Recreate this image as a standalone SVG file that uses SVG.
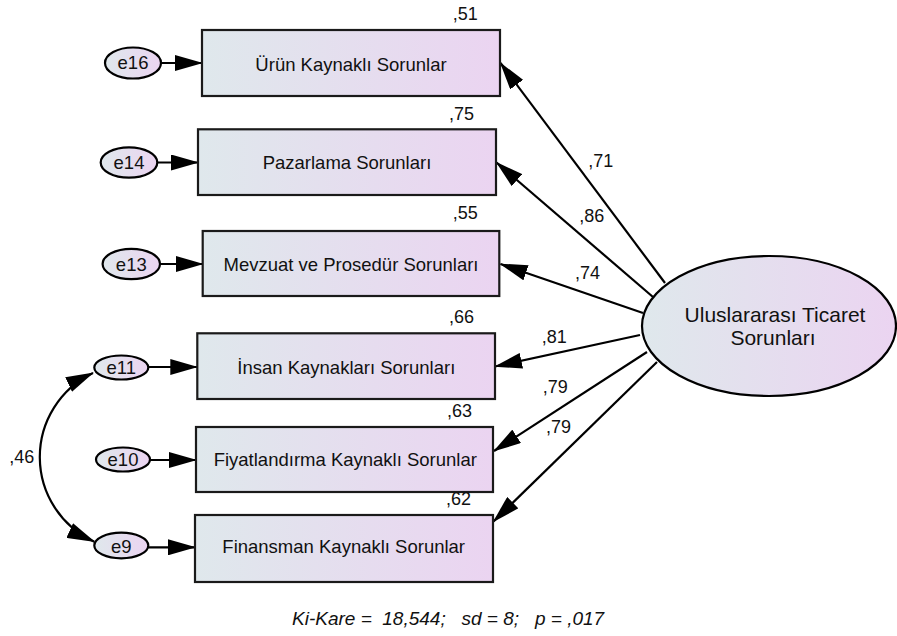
<svg xmlns="http://www.w3.org/2000/svg" width="897" height="636" viewBox="0 0 897 636">
<defs>
<linearGradient id="g" x1="0" y1="0" x2="1" y2="0">
<stop offset="0" stop-color="#dfe8ec"/>
<stop offset="1" stop-color="#ebd4f1"/>
</linearGradient>
<marker id="ah" viewBox="0 0 28 16" markerWidth="28" markerHeight="16" refX="27" refY="8" orient="auto-start-reverse" markerUnits="userSpaceOnUse">
<path d="M0,0 L28,8 L0,16 z" fill="#000"/>
</marker>
<style>
.box{fill:url(#g);stroke:#1a1a1a;stroke-width:2.2}
.el{fill:url(#g);stroke:#000;stroke-width:2.2}
.lbl{font-family:"Liberation Sans",Arial,sans-serif;font-size:18.5px;fill:#111;text-anchor:middle}
.num{font-family:"Liberation Sans",Arial,sans-serif;font-size:18px;fill:#111}
.con{fill:none;stroke:#000;stroke-width:2.2;marker-end:url(#ah)}
</style>
</defs>
<rect width="897" height="636" fill="#fff"/>

<g id="connectors">
<line class="con" x1="161" y1="63" x2="202" y2="63"/>
<line class="con" x1="157.3" y1="162.5" x2="198" y2="162.5"/>
<line class="con" x1="160" y1="264" x2="202.7" y2="264"/>
<line class="con" x1="148.3" y1="367" x2="197.3" y2="367"/>
<line class="con" x1="150" y1="460" x2="196" y2="460"/>
<line class="con" x1="148.3" y1="547.3" x2="195" y2="547.3"/>
<line class="con" x1="665" y1="283" x2="500.5" y2="63"/>
<line class="con" x1="653" y1="297" x2="496.5" y2="162.5"/>
<line class="con" x1="643" y1="313" x2="500.5" y2="264"/>
<line class="con" x1="640" y1="335" x2="495" y2="366.5"/>
<line class="con" x1="647" y1="352" x2="494" y2="451"/>
<line class="con" x1="657" y1="362" x2="493.5" y2="521.5"/>
<path class="con" style="marker-start:url(#ah)" d="M93,373 A93,93 0 0 0 94.3,541.7"/>
</g>

<g id="latent">
<ellipse class="el" cx="769" cy="326" rx="127" ry="70"/>
<text class="lbl" style="font-size:21px" x="775" y="322">Uluslararası Ticaret</text>
<text class="lbl" style="font-size:21px" x="773" y="345">Sorunları</text>
</g>

<g id="box1"><rect class="box" x="202" y="30" width="298" height="66"/><text class="lbl" x="351" y="70.5">Ürün Kaynaklı Sorunlar</text></g>
<g id="box2"><rect class="box" x="198" y="129.3" width="298" height="65.7"/><text class="lbl" x="347" y="169.3">Pazarlama Sorunları</text></g>
<g id="box3"><rect class="box" x="202.7" y="231" width="296.6" height="65"/><text class="lbl" x="351" y="270.7">Mevzuat ve Prosedür Sorunları</text></g>
<g id="box4"><rect class="box" x="197.3" y="333.3" width="297.7" height="65.7"/><text class="lbl" x="346.3" y="374">İnsan Kaynakları Sorunları</text></g>
<g id="box5"><rect class="box" x="196" y="427" width="297" height="65"/><text class="lbl" x="345.3" y="466">Fiyatlandırma Kaynaklı Sorunlar</text></g>
<g id="box6"><rect class="box" x="195" y="515" width="298" height="67"/><text class="lbl" x="343.7" y="553.3">Finansman Kaynaklı Sorunlar</text></g>

<g id="e16"><ellipse class="el" cx="133" cy="63" rx="28" ry="15.5"/><text class="lbl" x="133" y="69.3">e16</text></g>
<g id="e14"><ellipse class="el" cx="129" cy="162.5" rx="28.3" ry="15.2"/><text class="lbl" x="129" y="169">e14</text></g>
<g id="e13"><ellipse class="el" cx="131.3" cy="264" rx="28.7" ry="15.2"/><text class="lbl" x="131.3" y="270.5">e13</text></g>
<g id="e11"><ellipse class="el" cx="121.3" cy="367.5" rx="27" ry="12"/><text class="lbl" x="121.3" y="373.5">e11</text></g>
<g id="e10"><ellipse class="el" cx="123" cy="459.5" rx="27" ry="12"/><text class="lbl" x="123" y="466">e10</text></g>
<g id="e9"><ellipse class="el" cx="121.3" cy="545.5" rx="27" ry="12.8"/><text class="lbl" x="121.3" y="552.7">e9</text></g>

<g id="labels">
<text class="num" x="452.7" y="20">,51</text>
<text class="num" x="449" y="120">,75</text>
<text class="num" x="452.7" y="219.3">,55</text>
<text class="num" x="449" y="322.7">,66</text>
<text class="num" x="447" y="416.7">,63</text>
<text class="num" x="446" y="505">,62</text>
<text class="num" x="588.3" y="166.7">,71</text>
<text class="num" x="579.3" y="221.7">,86</text>
<text class="num" x="575" y="279.3">,74</text>
<text class="num" x="541.7" y="342.7">,81</text>
<text class="num" x="542.7" y="392.7">,79</text>
<text class="num" x="546" y="433.3">,79</text>
<text class="num" x="9.3" y="462.7">,46</text>
<text class="num" style="font-style:italic;font-size:19px" x="292" y="625" xml:space="preserve">Ki-Kare =  18,544;   sd = 8;   p = ,017</text>
</g>
</svg>
